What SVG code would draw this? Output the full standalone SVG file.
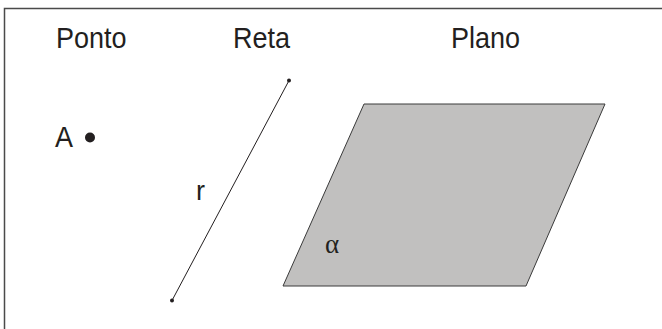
<svg xmlns="http://www.w3.org/2000/svg" width="662" height="329" viewBox="0 0 662 329">
<style>
.lbl{font-family:"Liberation Sans",Arial,sans-serif;font-size:27px;fill:#231f20}
.greek{font-family:"Liberation Serif","Times New Roman",serif;font-size:27px;fill:#231f20}
.dot{fill:#231f20}
</style>
<rect width="662" height="329" fill="#fff"/>
<g id="frame"><rect x="4.5" y="8.5" width="700" height="400" fill="none" stroke="#4a4a4a" stroke-width="1.5"/></g>
<g id="ponto">
<text class="lbl" x="56" y="48" transform="translate(0,48) scale(1,1.06) translate(0,-48)">Ponto</text>
<text class="lbl" x="55" y="147" transform="translate(0,147) scale(1,1.06) translate(0,-147)">A</text>
<circle class="dot" cx="90" cy="137.5" r="5"/>
</g>
<g id="reta">
<text class="lbl" x="233" y="48" transform="translate(0,48) scale(1,1.06) translate(0,-48)">Reta</text>
<line x1="289" y1="80.5" x2="172" y2="300.5" stroke="#231f20" stroke-width="1"/>
<circle class="dot" cx="289" cy="80.5" r="2"/>
<circle class="dot" cx="172" cy="300.5" r="2"/>
<text class="lbl" x="196" y="200">r</text>
</g>
<g id="plano">
<text class="lbl" x="451" y="48" transform="translate(0,48) scale(1,1.06) translate(0,-48)">Plano</text>
<polygon points="364,104 605,104 526,286 283,286" fill="#c1c0bf" stroke="#3a3a3a" stroke-width="1"/>
<text class="greek" x="325" y="252.5">α</text>
</g>
</svg>
